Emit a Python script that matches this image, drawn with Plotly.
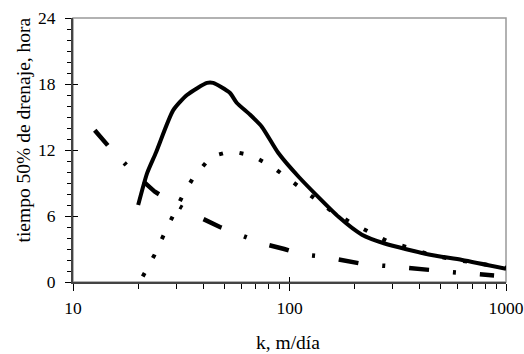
import plotly.graph_objects as go

# Solid curve
k_solid = [20, 22, 24.2, 29, 33.6, 41.6, 44.4, 53, 57, 65.8, 74.6, 89, 111, 169, 216, 275, 440, 627, 1000]
t_solid = [7.0, 9.9, 11.8, 15.6, 17.0, 18.1, 18.1, 17.2, 16.3, 15.2, 14.1, 11.7, 9.5, 5.9, 4.3, 3.5, 2.5, 2.0, 1.2]

# Dotted curve
k_dot = [21, 23.7, 26, 28.7, 31.8, 35.7, 43.4, 53.7, 67, 83, 102, 126, 155, 192, 235, 291, 360, 441, 551, 674, 832, 1000]
t_dot = [0.5, 2.4, 4.1, 5.9, 7.7, 9.4, 11.4, 11.9, 11.5, 10.5, 9.2, 7.8, 6.5, 5.4, 4.5, 3.6, 3.1, 2.5, 2.1, 1.8, 1.5, 1.3]

# Dash-dot curve
k_dd = [12.6, 14.8, 18.9, 23.9, 29, 37.4, 47.7, 57, 75, 94.5, 114, 144, 184, 224, 285, 367, 442, 562, 719, 881]
t_dd = [13.8, 12.2, 10.0, 8.2, 7.2, 6.0, 5.0, 4.4, 3.5, 3.0, 2.5, 2.3, 1.9, 1.6, 1.45, 1.2, 1.1, 0.9, 0.7, 0.6]

x_ticks = [10, 100, 1000]
x_minor = [20, 30, 40, 50, 60, 70, 80, 90, 200, 300, 400, 500, 600, 700, 800, 900]
y_ticks = [0, 6, 12, 18, 24]
y_minor = [v for v in range(0, 25) if v % 6 != 0]

x_title = "k, m/día"
y_title = "tiempo 50% de drenaje, hora"

FONT = "Liberation Serif"
FS_TICK = 17.5
FS_TITLE = 19.5

fig = go.Figure()
fig.add_trace(go.Scatter(x=k_solid, y=t_solid, mode="lines", line=dict(color="black", width=4, shape="spline", smoothing=0.6), showlegend=False))
fig.add_trace(go.Scatter(x=k_dot, y=t_dot, mode="lines", line=dict(color="black", width=4, dash="4px,17px"), showlegend=False))
fig.add_trace(go.Scatter(x=k_dd, y=t_dd, mode="lines", line=dict(color="black", width=4.5, dash="20px,24px,3px,24px"), showlegend=False))
# invisible trace on overlay axes so inside tick marks are drawn
fig.add_trace(go.Scatter(x=[10, 1000], y=[0, 24], mode="markers", marker=dict(opacity=0), xaxis="x2", yaxis="y2", showlegend=False, hoverinfo="skip"))

fig.update_layout(
    width=524, height=354,
    margin=dict(l=73, r=18, t=18, b=72),
    paper_bgcolor="white", plot_bgcolor="white",
    font=dict(family=FONT, size=FS_TICK, color="black"),
    xaxis=dict(
        type="log", range=[1, 3], automargin=False,
        tickvals=x_ticks, ticktext=[str(v) for v in x_ticks],
        ticks="outside", ticklen=7, tickwidth=1, tickcolor="black",
        minor=dict(tickvals=x_minor, ticks="outside", ticklen=5, tickwidth=1, tickcolor="black", showgrid=False),
        showline=True, linecolor="#444", linewidth=2,
        showgrid=False, zeroline=False, ticklabeloverflow="allow",
        tickfont=dict(size=FS_TICK), ticklabelstandoff=2,
    ),
    yaxis=dict(
        range=[0, 24], automargin=False,
        tickvals=y_ticks,
        ticks="outside", ticklen=6, tickwidth=1, tickcolor="black",
        minor=dict(tickvals=y_minor, ticks="outside", ticklen=4, tickwidth=1, tickcolor="black", showgrid=False),
        showline=True, linecolor="#444", linewidth=2,
        showgrid=False, zeroline=False, ticklabeloverflow="allow",
        tickfont=dict(size=FS_TICK), ticklabelstandoff=6,
    ),
    xaxis2=dict(type="log", range=[1, 3], overlaying="x", automargin=False,
                tickvals=x_ticks, ticks="inside", ticklen=5, tickwidth=1, tickcolor="black",
                showticklabels=False, showline=False, showgrid=False, zeroline=False),
    yaxis2=dict(range=[0, 24], overlaying="y", automargin=False,
                tickvals=y_ticks, ticks="inside", ticklen=5, tickwidth=1, tickcolor="black",
                showticklabels=False, showline=False, showgrid=False, zeroline=False),
    shapes=[dict(type="rect", xref="paper", yref="paper", x0=0, x1=1, y0=0, y1=1,
                 line=dict(color="#999", width=1.5), layer="below")],
    annotations=[
        dict(text=x_title, xref="paper", yref="paper", x=0.497, y=-0.231,
             xanchor="center", yanchor="middle", showarrow=False, font=dict(size=FS_TITLE)),
        dict(text=y_title, xref="paper", yref="paper", x=0, y=0.574, xshift=-50,
             xanchor="center", yanchor="middle", textangle=-90, showarrow=False, font=dict(size=FS_TITLE)),
    ],
)

fig.write_html("out.html", config={"displayModeBar": False},
               post_script="document.body.style.margin='0';document.body.style.overflow='hidden';")
